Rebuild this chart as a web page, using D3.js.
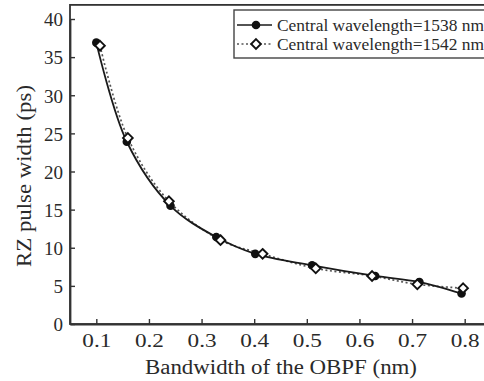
<!DOCTYPE html>
<html>
<head>
<meta charset="utf-8">
<script src="https://cdn.jsdelivr.net/npm/d3@7"></script>
<style>
  body { margin: 0; background: #fff; }
  text { font-family: "Liberation Serif", "DejaVu Serif", serif; fill: #2a2a2a; }
</style>
</head>
<body>
<script>
// data
let bw1538 = [0.100, 0.158, 0.241, 0.328, 0.402, 0.510, 0.630, 0.714, 0.794];
let pw1538 = [36.9, 23.9, 15.5, 11.4, 9.2, 7.7, 6.3, 5.5, 4.0];

let bw1542 = [0.107, 0.160, 0.238, 0.336, 0.416, 0.517, 0.624, 0.710, 0.797];
let pw1542 = [36.5, 24.4, 16.1, 11.0, 9.2, 7.3, 6.3, 5.2, 4.7];

let xTicks = [0.1, 0.2, 0.3, 0.4, 0.5, 0.6, 0.7, 0.8];
let yTicks = [0, 5, 10, 15, 20, 25, 30, 35, 40];

let legendNames = ["Central wavelength=1538 nm", "Central wavelength=1542 nm"];

let width = 484, height = 381;

let svg = d3.select("body")
  .append("svg")
    .attr("width", width)
    .attr("height", height);

let x = d3.scaleLinear().domain([0.05, 0.85]).range([70, 491]);
let y = d3.scaleLinear().domain([0, 40]).range([324, 19]);
let yTop = 41.85;

// frame (right side falls outside the window)
svg.append("rect")
  .attr("x", x(0.05))
  .attr("y", y(yTop))
  .attr("width", x(0.85) - x(0.05))
  .attr("height", y(0) - y(yTop))
  .attr("fill", "none")
  .attr("stroke", "#333")
  .attr("stroke-width", 1.8);

// axes, ticks pointing in
let xAxis = svg.append("g")
  .attr("transform", "translate(0," + y(0) + ")")
  .call(d3.axisBottom(x).tickValues(xTicks).tickSizeInner(-5).tickSizeOuter(0).tickPadding(10).tickFormat(d3.format(".1f")));

let yAxis = svg.append("g")
  .attr("transform", "translate(" + x(0.05) + ",0)")
  .call(d3.axisLeft(y).tickValues(yTicks).tickSizeInner(-5).tickSizeOuter(0).tickPadding(7));

[xAxis, yAxis].forEach(function(a){
  a.select(".domain").attr("stroke", "#333").attr("stroke-width", 1.8);
  a.selectAll(".tick line").attr("stroke", "#333").attr("stroke-width", 1.4);
  a.selectAll(".tick text")
    .attr("fill", "#2a2a2a")
    .style("font-family", "Liberation Serif, serif")
    .style("font-size", "19px");
});
xAxis.selectAll(".tick text").attr("textLength", 29).attr("lengthAdjust", "spacingAndGlyphs");
yAxis.selectAll(".tick text").attr("dy", "0.36em");

// axis titles
svg.append("text")
  .attr("x", (x(0.05) + 484) / 2 + 4)
  .attr("y", 374)
  .attr("text-anchor", "middle")
  .attr("textLength", 272)
  .attr("lengthAdjust", "spacingAndGlyphs")
  .style("font-size", "20px")
  .text("Bandwidth of the OBPF (nm)");

svg.append("text")
  .attr("transform", "translate(31,176) rotate(-90)")
  .attr("text-anchor", "middle")
  .attr("textLength", 182)
  .attr("lengthAdjust", "spacingAndGlyphs")
  .style("font-size", "20px")
  .text("RZ pulse width (ps)");

// curves
let line = d3.line()
  .x(function(d){ return x(d[0]); })
  .y(function(d){ return y(d[1]); })
  .curve(d3.curveCatmullRom.alpha(0.5));

let s1 = d3.zip(bw1538, pw1538);
let s2 = d3.zip(bw1542, pw1542);

svg.append("path")
  .datum(s2)
  .attr("d", line)
  .attr("fill", "none")
  .attr("stroke", "#555")
  .attr("stroke-width", 1.7)
  .attr("stroke-dasharray", "2,2.5");

svg.append("path")
  .datum(s1)
  .attr("d", line)
  .attr("fill", "none")
  .attr("stroke", "#1a1a1a")
  .attr("stroke-width", 1.8);

let diamond = d3.symbol().type(d3.symbolDiamond2).size(60);

svg.selectAll("circle.m1").data(s1)
  .enter()
    .append("circle")
    .attr("class", "m1")
    .attr("cx", function(d){ return x(d[0]); })
    .attr("cy", function(d){ return y(d[1]); })
    .attr("r", 4.3)
    .attr("fill", "#111");

svg.selectAll("path.m2").data(s2)
  .enter()
    .append("path")
    .attr("class", "m2")
    .attr("d", diamond)
    .attr("transform", function(d){ return "translate(" + x(d[0]) + "," + y(d[1]) + ")"; })
    .attr("fill", "#fff")
    .attr("stroke", "#111")
    .attr("stroke-width", 1.9);

// legend
let lg = svg.append("g");
lg.append("rect")
  .attr("x", 234)
  .attr("y", 10)
  .attr("width", 270)
  .attr("height", 48)
  .attr("fill", "#fff")
  .attr("stroke", "#444")
  .attr("stroke-width", 1.4);

let rows = lg.selectAll("g.row").data(legendNames)
  .enter()
    .append("g")
    .attr("class", "row")
    .attr("transform", function(d, i){ return "translate(0," + (25 + i * 19) + ")"; });

rows.append("line")
  .attr("x1", 237).attr("x2", 272)
  .attr("stroke", function(d, i){ return i == 0 ? "#1a1a1a" : "#555"; })
  .attr("stroke-width", 1.6)
  .attr("stroke-dasharray", function(d, i){ return i == 0 ? null : "2,2.5"; });

rows.filter(function(d, i){ return i == 0; })
  .append("circle").attr("cx", 256).attr("r", 4.3).attr("fill", "#111");

rows.filter(function(d, i){ return i == 1; })
  .append("path").attr("d", diamond).attr("transform", "translate(256,0)")
  .attr("fill", "#fff").attr("stroke", "#111").attr("stroke-width", 1.9);

rows.append("text")
  .attr("x", 277)
  .attr("dy", "0.35em")
  .attr("textLength", 207)
  .attr("lengthAdjust", "spacingAndGlyphs")
  .style("font-size", "16px")
  .text(function(d){ return d; });
</script>
</body>
</html>
